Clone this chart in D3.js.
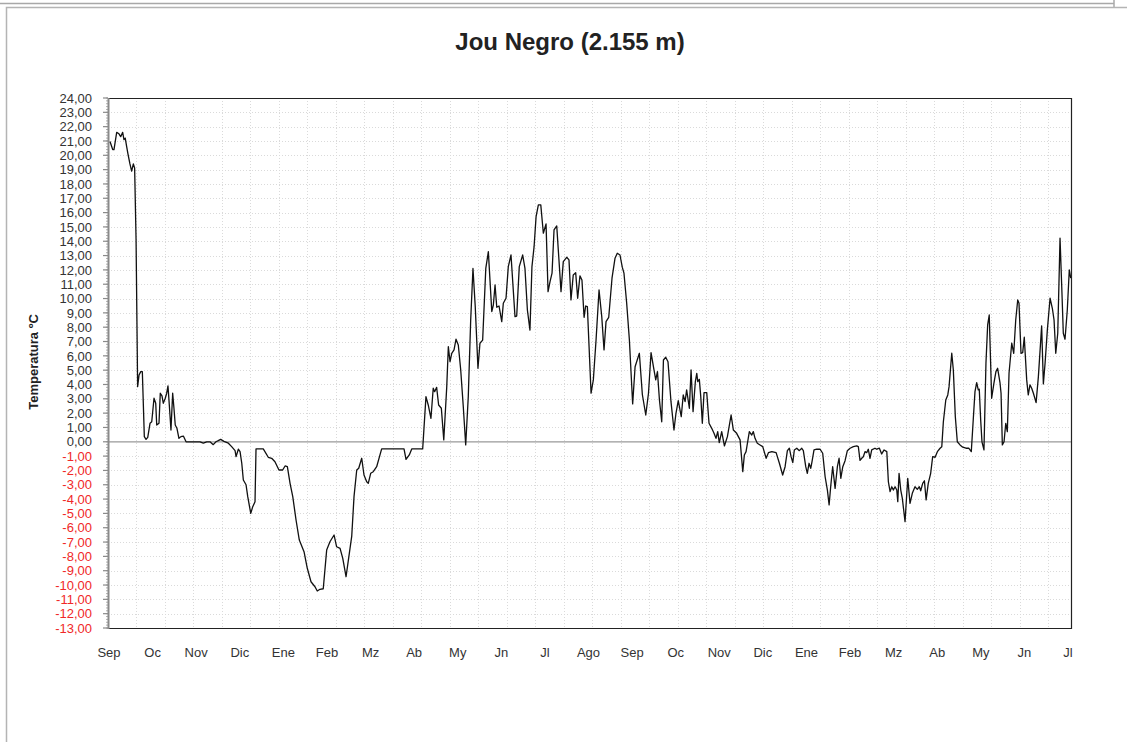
<!DOCTYPE html>
<html>
<head>
<meta charset="utf-8">
<script src="https://cdn.jsdelivr.net/npm/d3@7"></script>
<style>
  html, body { margin: 0; padding: 0; background: #fff; }
  svg { display: block; font-family: "Liberation Sans", Arial, sans-serif; }
</style>
</head>
<body>
<svg id="chart" width="1127" height="742"></svg>
<script>
// Daily temperature record, days counted from the start of the series
const days = [1.4,3.3,4.2,6.1,7.7,8.9,10.3,11.2,12.1,13.1,14.0,15.4,16.6,17.8,18.7,19.7,20.8,21.8,23.0,24.1,25.5,26.7,27.9,29.5,30.7,32.3,33.5,34.2,35.8,36.7,37.9,38.8,40.2,41.2,42.1,42.8,44.2,45.4,46.3,47.2,48.4,49.8,51.2,52.9,54.8,57.6,64.6,66.9,69.3,71.6,73.9,75.8,77.4,79.1,81.4,84.5,86.8,89.2,89.9,91.5,92.7,93.9,95.0,96.9,98.1,100.2,101.6,103.2,103.9,109.0,112.5,114.9,117.2,120.0,122.6,124.3,125.9,127.8,129.7,132.0,134.3,137.6,139.9,142.5,145.3,146.9,148.8,151.1,153.5,155.8,158.7,160.5,162.9,164.8,167.1,169.4,171.1,172.7,174.6,176.0,178.1,179.7,181.6,182.7,184.4,186.2,188.6,192.1,200.3,207.8,209.2,211.5,213.2,220.9,
  223.2,224.8,226.7,228.3,229.3,230.7,232.1,234.0,235.7,237.8,238.9,240.1,241.3,242.9,244.3,245.9,247.6,249.4,251.1,252.9,254.6,256.2,257.8,259.7,261.1,263.0,265.2,267.0,269.4,270.5,271.7,272.9,274.5,276.4,277.5,279.4,281.0,282.9,285.7,286.9,288.7,291.1,292.7,294.4,296.2,297.6,299.1,300.5,302.1,303.8,305.6,307.5,308.9,310.3,311.7,313.1,315.0,316.4,318.0,319.6,322.0,323.6,325.0,326.6,328.3,329.7,331.3,332.7,334.2,335.3,336.5,337.7,339.1,340.7,342.6,344.7,346.6,348.2,349.6,351.5,353.8,355.9,357.5,359.4,361.0,362.2,364.1,366.0,368.3,370.0,373.0,375.1,377.5,379.4,381.2,383.3,384.5,385.7,387.1,388.7,389.9,391.5,393.1,395.2,397.3,398.7,400.3,402.4,403.8,405.1,406.2,408.1,409.3,410.7,412.3,413.3,414.0,415.1,416.1,417.2,418.4,420.3,421.9,423.8,425.4,426.8,428.0,429.1,430.8,432.7,434.8,437.4,439.0,441.3,443.7,445.6,446.7,447.9,450.2,451.9,453.0,454.2,455.8,457.7,459.6,462.0,463.6,466.0,469.0,471.3,473.6,475.3,476.9,478.3,479.5,480.7,481.8,483.5,485.3,487.0,488.1,489.8,490.9,492.1,493.3,494.2,495.6,497.5,499.8,501.7,503.4,505.0,506.2,507.3,508.7,510.4,512.0,513.2,514.4,515.8,517.4,519.0,520.9,523.2,525.6,526.7,527.9,529.1,530.2,531.4,532.6,533.7,534.9,536.1,538.4,539.6,541.5,543.1,544.8,546.7,547.8,549.0,550.2,551.3,552.5,553.7,554.4,555.3,556.5,557.6,559.5,561.4,563.0,564.6,566.5,568.1,569.5,570.5,571.9,573.1,574.3,575.8,577.5,578.9,580.6,582.2,584.1,585.3,586.4,588.1,589.5,590.4,592.3,593.4,594.8,596.2,598.1,600.0,602.3,604.2,606.0,607.4,608.6,609.8,610.9,611.6,612.6,613.5,614.9,616.3,617.5,618.6,620.3,621.9,623.3,624.5,626.2,626.9,627.8,629.0,630.2,631.3,632.5,634.4,635.8,637.2,638.6,639.5,640.9,642.1,643.2,644.9,646.0,647.2,648.4,649.6,651.5,653.1,655.4,656.6,657.8,659.4,661.3,662.9,664.1,665.3,666.7,668.3,669.5,670.6,671.8,673.4,674.8,675.8];

const temps = [20.96,20.4,20.4,21.6,21.5,21.3,21.6,21.1,21.2,20.6,20.1,19.4,18.9,19.4,19.1,14.1,3.85,4.66,4.9,4.9,0.36,0.17,0.31,1.29,1.4,3.04,2.69,1.17,1.29,3.39,3.2,2.69,3.04,3.39,3.9,2.92,0.82,3.39,2.34,1.17,0.94,0.24,0.36,0.4,0,0,0,-0.1,0,0,-0.2,0,0.08,0.17,0.03,-0.1,-0.34,-0.62,-1.04,-0.52,-0.69,-1.5,-2.67,-3.0,-3.83,-5.0,-4.53,-4.18,-0.5,-0.5,-1.08,-1.15,-1.39,-1.97,-1.97,-1.69,-1.74,-2.9,-3.83,-5.46,-6.86,-7.67,-8.83,-9.77,-10.12,-10.42,-10.3,-10.26,-7.56,-6.98,-6.51,-7.33,-7.44,-8.14,-9.42,-7.79,-6.58,-3.83,-1.97,-1.85,-1.15,-2.32,-2.79,-2.9,-2.2,-2.09,-1.74,-0.5,-0.5,-0.5,-1.22,-0.92,-0.5,-0.5,
  3.15,2.57,1.64,3.74,3.5,3.8,2.57,2.34,0.13,3.85,6.64,5.59,6.18,6.41,7.16,6.76,5.01,2.45,-0.22,3.15,8.5,12.1,9.43,5.13,6.88,7.1,12.1,13.27,9.09,9.55,10.95,9.39,9.48,8.39,9.67,10.02,12.23,13.04,8.74,8.78,12.23,13.04,12.1,9.2,7.8,12.23,13.62,15.72,16.54,16.54,14.56,15.21,10.48,11.18,11.77,14.79,15.07,12.93,10.48,12.58,12.88,12.7,9.9,11.65,11.81,10.02,11.58,11.3,8.69,9.48,9.43,6.64,3.39,4.32,7.11,10.6,8.74,6.41,8.39,8.69,11.42,12.81,13.16,13.04,12.19,11.77,9.67,7.11,2.64,5.24,6.18,3.3,1.87,3.39,6.22,5.01,4.32,4.9,2.92,1.4,5.71,5.9,5.59,2.8,0.82,1.99,2.87,1.75,3.27,2.8,3.62,2.34,5.01,2.1,4.2,4.78,4.2,4.36,3.15,1.29,3.43,3.43,1.29,0.94,0.59,0.24,0.71,-0.06,0.71,-0.29,0.36,1.87,0.82,0.59,0.13,-2.09,-0.92,-0.69,0.71,0.47,0.71,0.24,-0.1,-0.22,-0.34,-1.15,-0.76,-0.69,-0.76,-1.5,-2.32,-1.74,-0.62,-0.45,-1.04,-1.46,-0.57,-0.45,-0.62,-0.45,-0.62,-1.74,-2.2,-1.5,-1.85,-1.39,-0.57,-0.52,-0.52,-0.8,-2.44,-3.37,-4.41,-3.14,-1.74,-3.25,-1.74,-1.15,-2.55,-1.74,-1.32,-0.62,-0.45,-0.34,-0.29,-0.34,-1.3,-1.15,-1.04,-0.69,-0.76,-0.52,-1.15,-0.57,-0.45,-0.52,-0.45,-0.85,-0.57,-0.69,-2.79,-3.48,-3.14,-3.37,-3.14,-3.37,-4.18,-2.2,-3.37,-3.95,-5.58,-2.55,-4.3,-3.6,-3.14,-3.32,-3.14,-3.42,-2.9,-2.72,-4.06,-2.9,-2.2,-1.04,-1.08,-0.69,-0.45,-0.34,1.4,2.92,3.27,3.85,6.18,5.01,1.75,0,-0.22,-0.38,-0.45,-0.45,-0.69,1.57,3.5,4.13,3.62,3.67,1.52,0,-0.57,5.48,8.16,8.85,3.04,4.09,4.9,5.13,4.09,3.39,-0.22,0,1.29,0.71,4.78,6.88,6.18,8.5,9.9,9.67,6.18,6.22,7.3,4.32,3.27,3.97,3.74,3.39,2.73,4.55,8.09,4.04,5.48,7.81,10.02,9.32,8.5,6.18,7.58,14.21,10.83,7.58,7.16,9.2,12.0,11.42];

// Month labels along the time axis and their spacing in days
const monthLabels = ["Sep","Oc","Nov","Dic","Ene","Feb","Mz","Ab","My","Jn","Jl","Ago",
                     "Sep","Oc","Nov","Dic","Ene","Feb","Mz","Ab","My","Jn","Jl"];
const daysPerLabel = 30.6;
const dayExtent = [0, 676];

// Temperature axis range and labels
const yMin = -13, yMax = 24;
const yTickValues = d3.range(yMin, yMax + 1);

const titleText = "Jou Negro (2.155 m)";
const yTitle = "Temperatura ºC";

const svg = d3.select("#chart");
const W = 1127, H = 742;
const plot = { left: 108, right: 1071, top: 98, bottom: 628 };

// Outer frames
svg.append("line").attr("x1", 0).attr("x2", 1114).attr("y1", 3.5).attr("y2", 3.5)
  .attr("stroke", "#a8a8a8").attr("stroke-width", 1.5);
svg.append("line").attr("x1", 1114).attr("x2", 1114).attr("y1", 0).attr("y2", 7)
  .attr("stroke", "#a8a8a8").attr("stroke-width", 1.5);
svg.append("rect").attr("x", 6.5).attr("y", 7.5).attr("width", W + 20).attr("height", H + 20)
  .attr("fill", "#fff").attr("stroke", "#b4b4b4").attr("stroke-width", 1.5);

const x = d3.scaleLinear().domain(dayExtent).range([plot.left, plot.right]);
const y = d3.scaleLinear().domain([yMin, yMax]).range([plot.bottom, plot.top]);

// Title
svg.append("text")
  .attr("x", 570).attr("y", 50)
  .attr("text-anchor", "middle")
  .attr("font-size", 24).attr("font-weight", "bold").attr("fill", "#222")
  .text(titleText);

// Dotted grid
const grid = svg.append("g").attr("stroke", "#dadada").attr("stroke-width", 1)
  .attr("stroke-dasharray", "1,2");
grid.selectAll("line.h").data(yTickValues.filter(v => v !== 0 && v !== yMin && v !== yMax))
  .join("line").attr("class", "h")
  .attr("x1", plot.left).attr("x2", plot.right)
  .attr("y1", d => Math.round(y(d)) + 0.5).attr("y2", d => Math.round(y(d)) + 0.5);
grid.selectAll("line.v").data(d3.range(20, dayExtent[1], 20))
  .join("line").attr("class", "v")
  .attr("y1", plot.top).attr("y2", plot.bottom)
  .attr("x1", d => Math.round(x(d)) + 0.5).attr("x2", d => Math.round(x(d)) + 0.5);

// Zero reference line
svg.append("line")
  .attr("x1", plot.left).attr("x2", plot.right)
  .attr("y1", y(0)).attr("y2", y(0))
  .attr("stroke", "#999").attr("stroke-width", 1.2);

// Plot frame: top, right, bottom
svg.append("path")
  .attr("d", `M${plot.left},${plot.top + 0.5}H${plot.right + 0.5}V${plot.bottom + 0.5}H${plot.left}`)
  .attr("fill", "none").attr("stroke", "#222").attr("stroke-width", 1.2);

// Left axis with a ruler of minor ticks
const axisG = svg.append("g");
axisG.selectAll("line.minor").data(d3.range(yMin * 5, yMax * 5 + 1).map(v => v / 5))
  .join("line").attr("class", "minor")
  .attr("x1", plot.left - 2).attr("x2", plot.left)
  .attr("y1", d => y(d)).attr("y2", d => y(d))
  .attr("stroke", "#9a9a9a").attr("stroke-width", 0.8);
axisG.selectAll("line.major").data(yTickValues)
  .join("line").attr("class", "major")
  .attr("x1", plot.left - 5).attr("x2", plot.left)
  .attr("y1", d => y(d)).attr("y2", d => y(d))
  .attr("stroke", "#8a8a8a").attr("stroke-width", 1.2);
axisG.append("line")
  .attr("x1", plot.left + 0.5).attr("x2", plot.left + 0.5)
  .attr("y1", plot.top).attr("y2", plot.bottom + 1)
  .attr("stroke", "#8a8a8a").attr("stroke-width", 2);

const fmt = v => v.toFixed(2).replace(".", ",");
axisG.selectAll("text.ylab").data(yTickValues)
  .join("text").attr("class", "ylab")
  .attr("x", 92).attr("y", d => y(d))
  .attr("dy", "0.36em")
  .attr("text-anchor", "end")
  .attr("font-size", 13)
  .attr("fill", d => d < 0 ? "#f02828" : "#333")
  .text(d => fmt(d));

// Axis title
svg.append("text")
  .attr("transform", `translate(38,362) rotate(-90)`)
  .attr("text-anchor", "middle")
  .attr("font-size", 13).attr("font-weight", "bold").attr("fill", "#222")
  .text(yTitle);

// Month labels
svg.append("g").selectAll("text").data(monthLabels)
  .join("text")
  .attr("x", (d, i) => x(i * daysPerLabel) + 1)
  .attr("y", 657)
  .attr("text-anchor", "middle")
  .attr("font-size", 13).attr("fill", "#333")
  .text(d => d);

// Temperature line
const series = days.map((d, i) => ({ day: d, temp: temps[i] }));
svg.append("path")
  .datum(series)
  .attr("fill", "none")
  .attr("stroke", "#111")
  .attr("stroke-width", 1.3)
  .attr("stroke-linejoin", "round")
  .attr("d", d3.line().x(d => x(d.day)).y(d => y(d.temp)));
</script>
</body>
</html>
